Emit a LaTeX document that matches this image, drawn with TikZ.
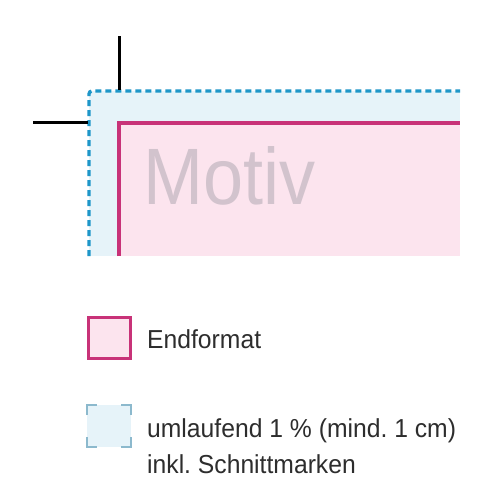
\documentclass[tikz,border=0pt]{standalone}
\usepackage{fontspec}
\setmainfont{Liberation Sans}
\frenchspacing
\definecolor{bleedfill}{RGB}{230,243,249}
\definecolor{bleedline}{RGB}{30,150,200}
\definecolor{trimfill}{RGB}{252,228,238}
\definecolor{trimline}{RGB}{200,50,120}
\definecolor{motivgray}{RGB}{210,195,205}
\definecolor{legtext}{RGB}{45,45,45}
\definecolor{legcorner}{RGB}{140,185,205}
\tikzset{
  legendtext/.style={anchor=base west, inner sep=0pt, text=legtext, font=\fontsize{26}{30}\selectfont, xscale=0.95},
  cropmark/.style={line width=3pt, black},
}
\begin{document}
\begin{tikzpicture}[x=1pt,y=-1pt]
\useasboundingbox[fill=white] (0,0) rectangle (478,488);
% bleed area
\fill[bleedfill] (89,91) rectangle (460,256);
\draw[bleedline, line width=3.4pt, dash pattern=on 6pt off 4pt, rounded corners=3pt] (89,256) -- (89,91) -- (460,91);
% trim area
\fill[trimfill] (119,123) rectangle (460,256);
\draw[trimline, line width=3.2pt] (119,256) -- (119,123) -- (460,123);
% crop marks
\draw[cropmark] (119,36) -- (119,90);
\draw[cropmark] (33,122) -- (88,122);
% Motiv
\node (motiv) [anchor=base west, inner sep=0pt, text=motivgray, font=\fontsize{80}{90}\selectfont, xscale=0.9] at (143,204) {Motiv};
% legend
\draw[trimline, fill=trimfill, line width=3pt] (88,317) rectangle (130,358);
\node (endformat) [legendtext] at (147,348) {Endformat};
\fill[bleedfill] (87,405) rectangle (131,447);
\begin{scope}[legcorner, line width=1.6pt]
\draw (87,415) -- (87,405) -- (97,405);
\draw (121,405) -- (131,405) -- (131,415);
\draw (131,437) -- (131,447) -- (121,447);
\draw (97,447) -- (87,447) -- (87,437);
\end{scope}
\node (umlauf) [legendtext] at (147,437) {umlaufend 1 \% (mind. 1 cm)};
\node (inkl) [legendtext] at (147,473) {inkl. Schnittmarken};
\end{tikzpicture}
\end{document}
